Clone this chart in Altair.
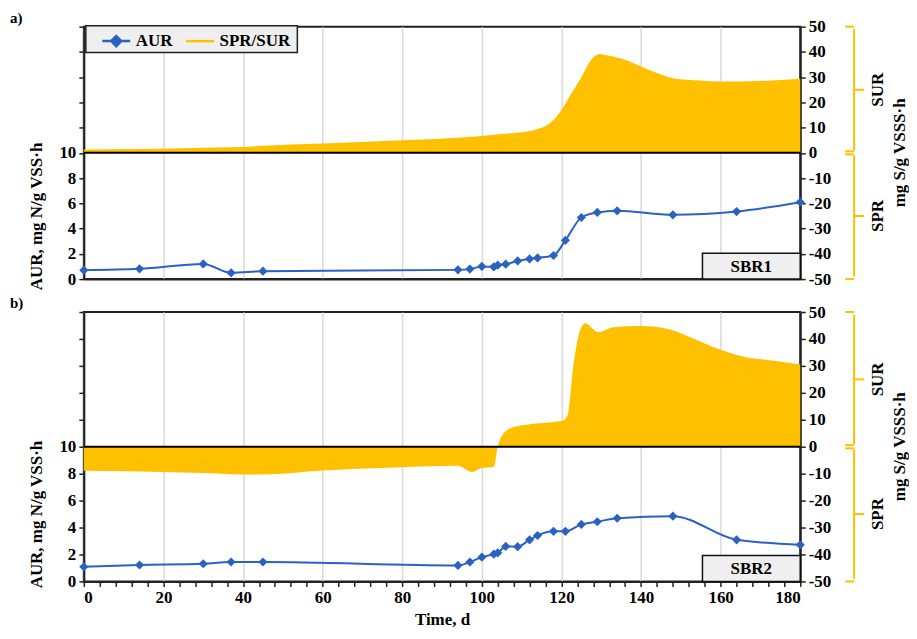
import altair as alt
import pandas as pd

# ---------------- data ----------------
aur_days = [0, 14, 30, 37, 45, 94, 97, 100, 103, 104, 106, 109, 112, 114, 118, 121, 125, 129, 134, 148, 164, 180]
aur_sbr1 = [0.71, 0.81, 1.20, 0.50, 0.63, 0.73, 0.79, 1.00, 0.97, 1.10, 1.18, 1.44, 1.60, 1.68, 1.87, 3.07, 4.88, 5.28, 5.41, 5.09, 5.35, 6.09]
aur_sbr2 = [1.09, 1.22, 1.31, 1.44, 1.44, 1.19, 1.44, 1.80, 2.02, 2.12, 2.60, 2.58, 3.09, 3.41, 3.72, 3.72, 4.23, 4.43, 4.69, 4.84, 3.09, 2.72]

rate_days_sbr1 = [0, 14, 30, 37, 45, 60, 80, 94, 103, 113, 118, 120, 122.5, 125, 127.5, 129.5, 132, 136, 140, 144, 148, 155, 160, 170, 180]
rate_sbr1 = [1.3, 1.5, 2.0, 2.2, 2.8, 3.7, 5.0, 6.0, 7.2, 9.0, 13.0, 17.0, 23.5, 30.0, 36.9, 39.2, 38.5, 36.9, 34.2, 31.6, 29.6, 28.7, 28.3, 28.5, 29.4]

rate_days_sbr2 = [0, 14, 30, 37, 45, 60, 75, 94, 97.5, 100, 103, 104, 105, 107.5, 112.5, 120, 121.5, 123, 124.7, 126, 129.2, 133, 140, 147, 153, 160, 166, 173, 180]
rate_sbr2 = [-8.9, -9.2, -9.8, -10.2, -10.3, -8.8, -7.9, -7.1, -9.4, -7.9, -7.4, 0.0, 4.0, 7.0, 8.4, 9.5, 11.6, 30.0, 43.3, 45.8, 42.5, 44.3, 44.8, 43.6, 40.3, 36.0, 33.3, 32.0, 30.5]

x_ticks = list(range(0, 181, 20))
x_minor = list(range(0, 181, 4))
left_ticks = list(range(0, 21, 2))
right_ticks = list(range(-50, 51, 10))

# ---------------- style ----------------
BLUE = "#2a62c4"
GOLD = "#ffc000"
FONT = "Liberation Serif"
W = 718
HA = 253
HB = 270
one = alt.Data(values=[{"k": 1}])
DIAMOND_LINE = "M-1,0L1,0M0,-0.36L0.36,0L0,0.36L-0.36,0Z"

common_legend = dict(
    title=None, orient="none", direction="horizontal", padding=0,
    symbolSize=784, symbolStrokeWidth=2.5, symbolOffset=0,
    labelFont=FONT, labelFontSize=17, labelFontWeight="bold", labelColor="black",
    labelOffset=4,
)
aur_legend = alt.Legend(legendX=17, legendY=-1, symbolType=DIAMOND_LINE,
                        symbolFillColor=BLUE, symbolStrokeColor=BLUE, **common_legend)
rate_legend = alt.Legend(legendX=101, legendY=-1, symbolType="stroke",
                         symbolStrokeColor=GOLD, **common_legend)


def panel(tag, label, aur_vals, rate_days, rate_vals, H, bottom, with_legend):
    aur_df = pd.DataFrame({"day": aur_days, "value": aur_vals, "series": "AUR"})
    rate_df = pd.DataFrame({"day": rate_days, "value": rate_vals, "series": "SPR/SUR"})

    def py(v):  # pixel row of a value on the right-hand (-50..50) axis, for decorations
        return H * (50 - v) / 100.0

    if bottom:
        xaxis = alt.Axis(
            values=x_minor,
            labelExpr="datum.value % 20 === 0 ? datum.label : ''",
            gridOpacity={"condition": {"test": "datum.value % 20 === 0", "value": 1}, "value": 0},
            tickSize=5, title="Time, d", labelOverlap=False, labelPadding=3, titlePadding=6,
        )
    else:
        xaxis = alt.Axis(values=x_ticks, labels=False, ticks=False, title=None)
    x = alt.X("day:Q", scale=alt.Scale(domain=[0, 180], nice=False), axis=xaxis)

    y_right = alt.Y(
        "value:Q", scale=alt.Scale(domain=[-50, 50], nice=False),
        axis=alt.Axis(orient="right", values=right_ticks, grid=False, title=None,
                      labelExpr="'' + datum.value",
                      tickSize=5, labelPadding=3, labelOverlap=False, labelBound=False),
    )
    y_left = alt.Y(
        "value:Q", scale=alt.Scale(domain=[0, 20], nice=False),
        axis=alt.Axis(orient="left", values=left_ticks,
                      labelExpr="datum.value <= 10 ? datum.label : ''",
                      tickSize=5, labelPadding=3, labelOverlap=False,
                      title="AUR, mg N/g VSS·h", titleX=-47, titleY=H * 0.75,
                      titleBaseline="middle", titleAngle=270),
    )

    if with_legend:
        area_enc = dict(fill=alt.Fill("series:N", scale=alt.Scale(domain=["SPR/SUR"], range=[GOLD]),
                                      legend=rate_legend))
        line_enc = dict(color=alt.Color("series:N", scale=alt.Scale(domain=["AUR"], range=[BLUE]),
                                        legend=aur_legend))
    else:
        area_enc = dict(color=alt.value(GOLD))
        line_enc = dict(color=alt.value(BLUE))

    area = alt.Chart(rate_df).mark_area(interpolate="monotone", opacity=1).encode(
        x=x, y=y_right, y2=alt.datum(0), **area_enc
    )
    zero = alt.Chart(one).mark_rule(color="black", strokeWidth=2).encode(
        x=alt.value(0), x2=alt.value(W), y=alt.value(py(0)))

    def hrule(yv, x1, x2):
        return alt.Chart(one).mark_rule(color=GOLD, strokeWidth=2).encode(
            x=alt.value(W + x1), x2=alt.value(W + x2), y=alt.value(py(yv)))

    def vrule(y1, y2, xo):
        return alt.Chart(one).mark_rule(color=GOLD, strokeWidth=2).encode(
            x=alt.value(W + xo), y=alt.value(py(y1)), y2=alt.value(py(y2)))

    def rtext(txt, yv, xo):
        return alt.Chart(one).mark_text(
            text=txt, font=FONT, fontSize=17, fontWeight="bold", color="black",
            angle=270, align="center", baseline="middle").encode(
            x=alt.value(W + xo), y=alt.value(py(yv)))

    braces = [
        vrule(49, 1, 54), hrule(50, 45, 54), hrule(0.6, 45, 54), hrule(25, 54, 64),
        vrule(-1, -49, 54), hrule(-0.6, 45, 54), hrule(-50, 45, 54), hrule(-25, 54, 64),
    ]
    right = alt.layer(
        area, zero, *braces,
        rtext("SUR", 25, 78), rtext("SPR", -25, 78), rtext("mg S/g VSSS·h", 0, 100),
    )

    line = alt.Chart(aur_df).mark_line(interpolate="monotone", strokeWidth=2).encode(
        x=x, y=y_left, **line_enc)
    pts = alt.Chart(aur_df).mark_point(shape="diamond", filled=True, size=85, opacity=1).encode(
        x=x, y=y_left, color=alt.value(BLUE))
    box = alt.Chart(one).mark_rect(fill="#efefef", stroke="#111", strokeWidth=1.5).encode(
        x=alt.value(W - 98), x2=alt.value(W), y=alt.value(H - 26), y2=alt.value(H))
    box_txt = alt.Chart(one).mark_text(
        text=label, font=FONT, fontSize=17, fontWeight="bold", color="black",
        align="center", baseline="middle").encode(x=alt.value(W - 49), y=alt.value(H - 12))
    tag_txt = alt.Chart(one).mark_text(
        text=tag, font=FONT, fontSize=15, fontWeight="bold", color="black",
        align="left", baseline="alphabetic").encode(x=alt.value(-74), y=alt.value(-4))
    layers = [line, pts, box, box_txt, tag_txt]
    if with_legend:
        legend_box = alt.Chart(one).mark_rect(fill="#efefef", stroke="#222", strokeWidth=1.5).encode(
            x=alt.value(2), x2=alt.value(214), y=alt.value(-1), y2=alt.value(26))
        layers.append(legend_box)
    left = alt.layer(*layers)

    return alt.layer(right, left).resolve_scale(y="independent").properties(width=W, height=H)


top = panel("a)", "SBR1", aur_sbr1, rate_days_sbr1, rate_sbr1, HA, False, True)
bot = panel("b)", "SBR2", aur_sbr2, rate_days_sbr2, rate_sbr2, HB, True, False)

chart = alt.vconcat(top, bot, spacing=33, bounds="flush").resolve_scale(
    color="independent", fill="independent"
).properties(
    padding={"left": 1, "top": 1, "right": 0, "bottom": 0}
).configure_view(
    stroke="#222", strokeWidth=2
).configure_axis(
    labelFont=FONT, titleFont=FONT, labelFontWeight="bold", titleFontWeight="bold",
    labelFontSize=17, titleFontSize=17, labelColor="black", titleColor="black",
    domainColor="#222", domainWidth=2, tickColor="#222", tickWidth=1.5,
    gridColor="#d9d9d9", gridWidth=1.5, labelOverlap=False,
)

chart.save("out.html", embed_options={"renderer": "svg", "actions": False})
